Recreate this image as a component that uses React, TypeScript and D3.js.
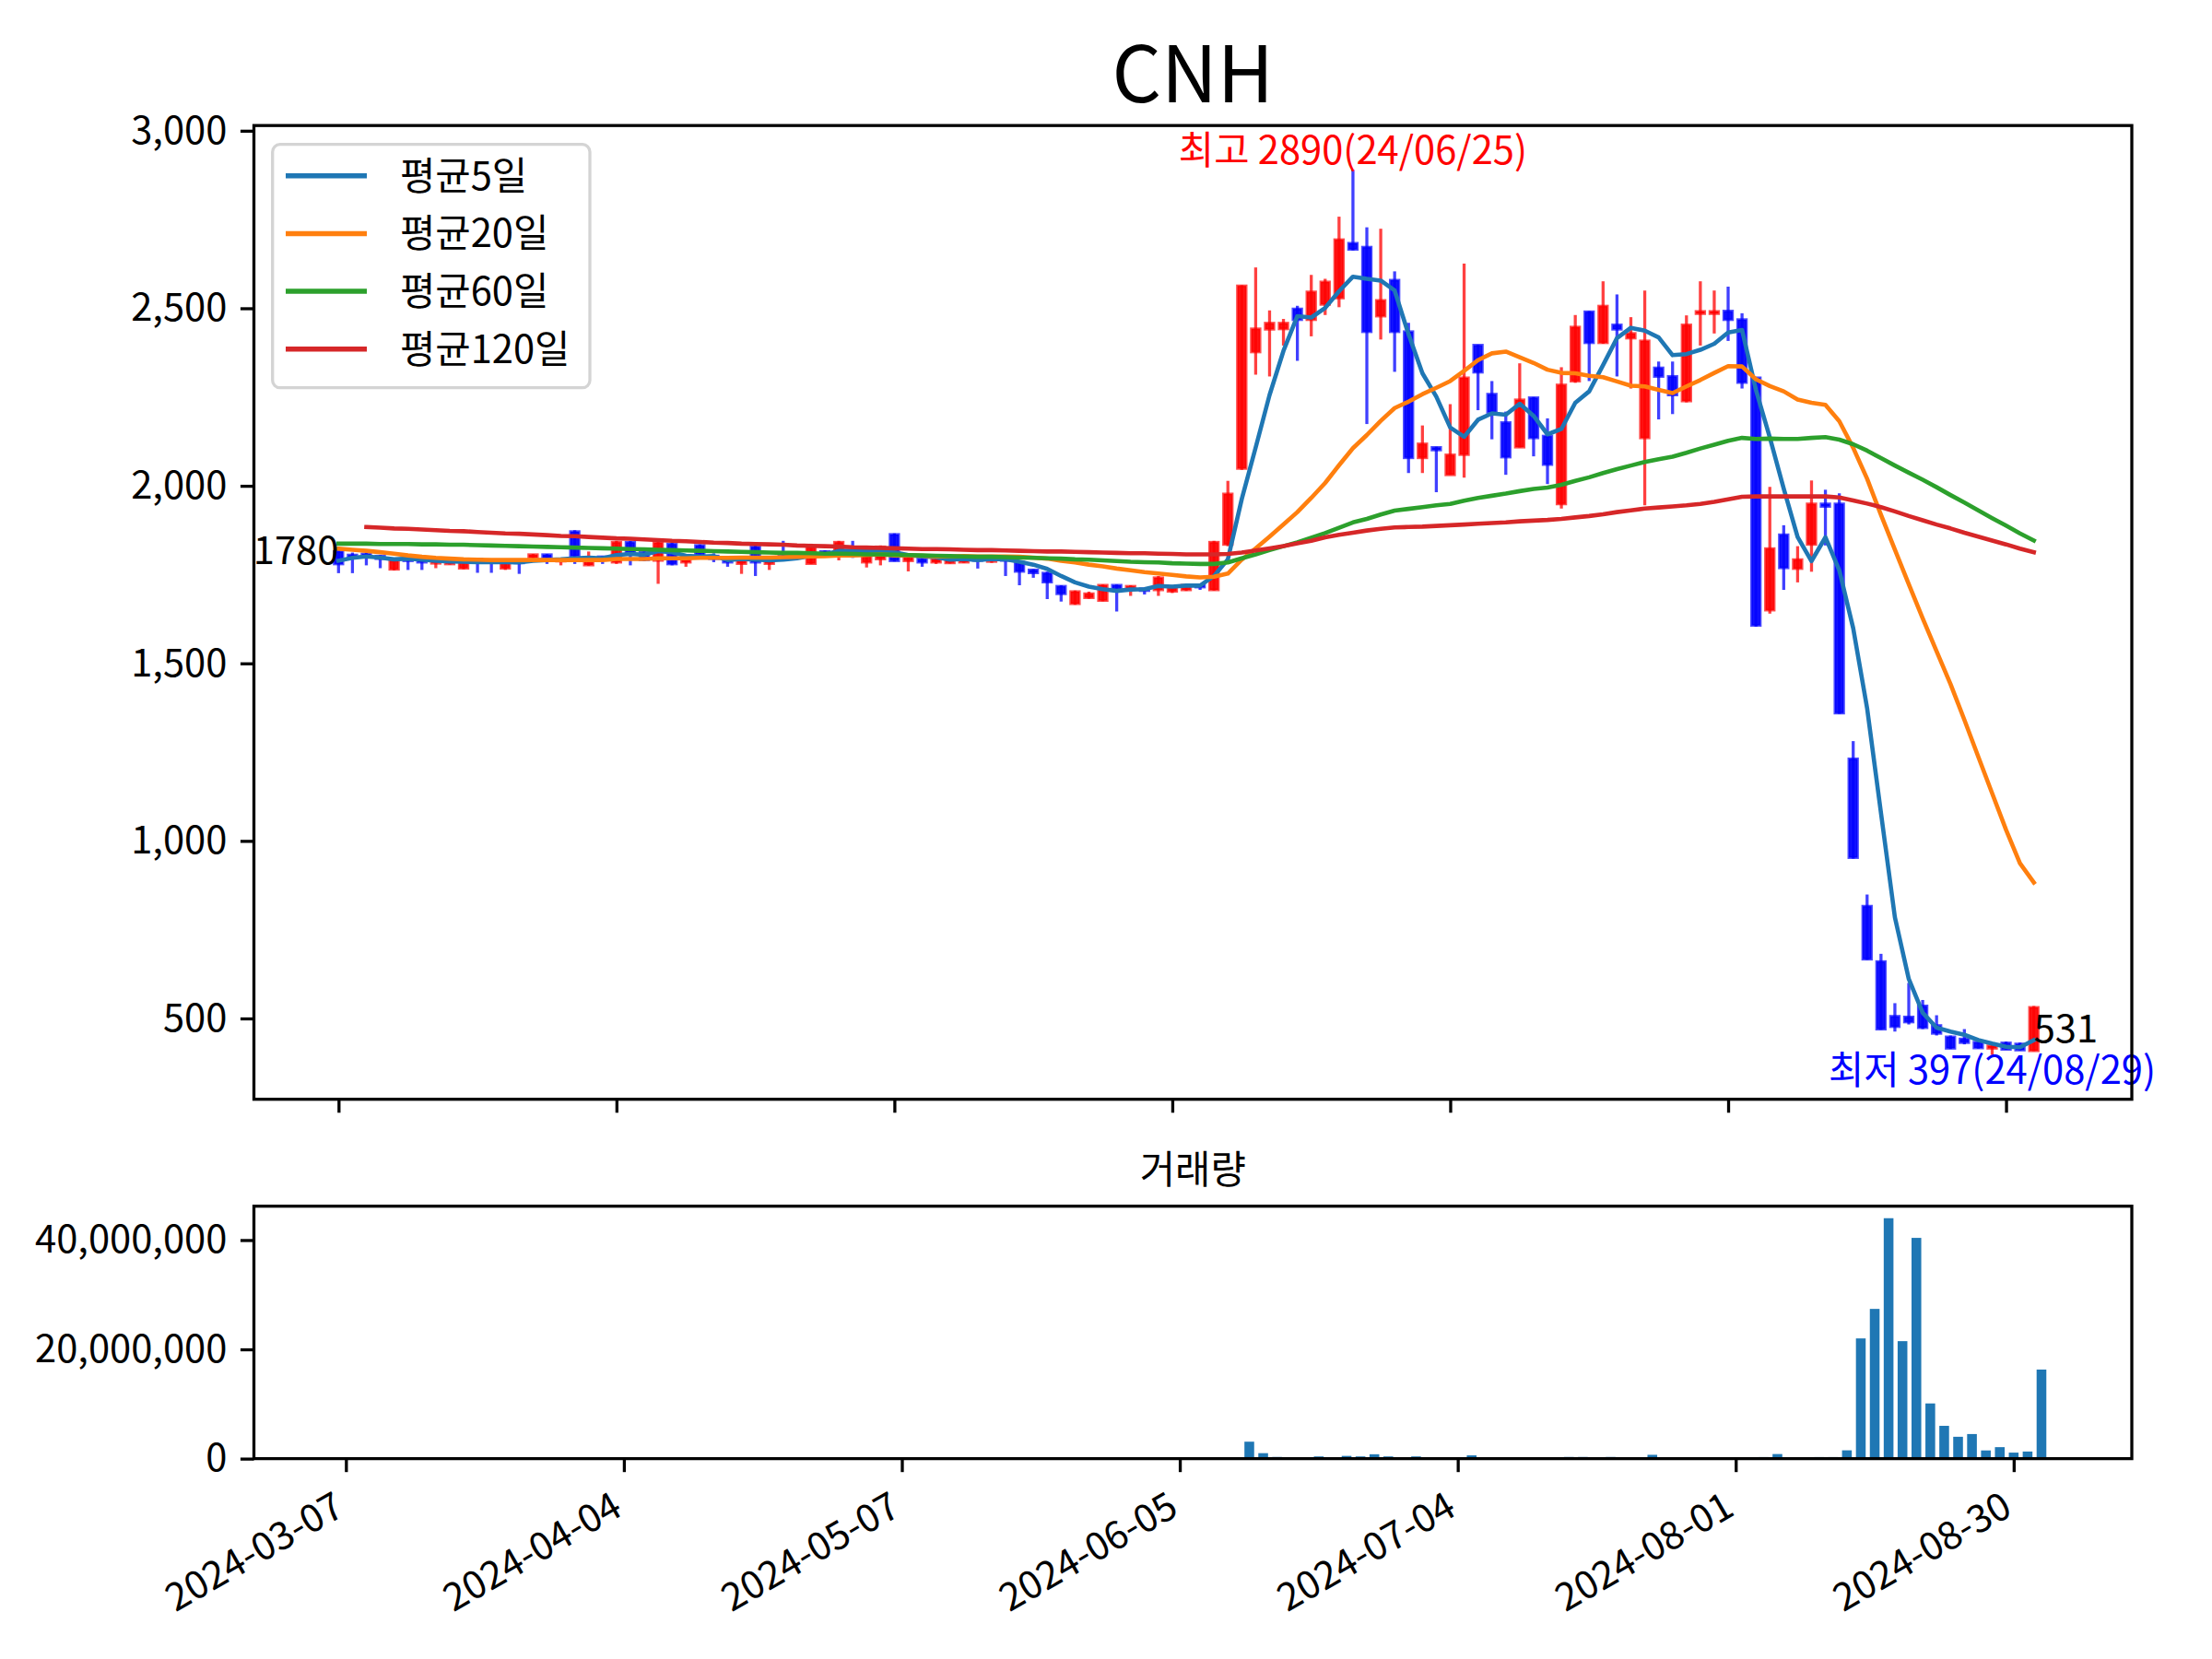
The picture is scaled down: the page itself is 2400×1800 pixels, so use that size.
import { useEffect, useRef } from 'react';
import * as d3 from 'd3';

// x positions are trading-day indices; only every 20th day gets a label
const tickIdx = [0, 20, 40, 60, 80, 100, 120];
const tickLabels = ['2024-03-07', '2024-04-04', '2024-05-07', '2024-06-05', '2024-07-04', '2024-08-01', '2024-08-30'];

const priceTicks = [500, 1000, 1500, 2000, 2500, 3000];
const volumeTicks = [0, 20000000, 40000000];

const opens = [
  1815, 1805, 1808, 1802, 1765, 1797, 1793, 1782, 1780, 1768,
  1793, 1790, 1768, 1790, 1798, 1806, 1788, 1871, 1777, 1800,
  1785, 1841, 1812, 1790, 1836, 1785, 1832, 1802, 1798, 1781,
  1828, 1781, 1812, 1805, 1781, 1815, 1811, 1815, 1785, 1794,
  1863, 1789, 1794, 1785, 1783, 1785, 1796, 1787, 1795, 1785,
  1763, 1754, 1717, 1668, 1685, 1677, 1720, 1712, 1710, 1707,
  1703, 1707, 1720, 1707, 1835, 2049, 2377, 2441, 2442, 2498,
  2468, 2511, 2529, 2683, 2672, 2478, 2579, 2434, 2079, 2108,
  2031, 2088, 2396, 2258, 2178, 2109, 2248, 2140, 1949, 2295,
  2490, 2403, 2453, 2416, 2135, 2332, 2308, 2239, 2485, 2485,
  2492, 2468, 2304, 1650, 1862, 1767, 1835, 1949, 1949, 1231,
  816, 660, 506, 504, 535, 480, 448, 442, 433, 416,
  431, 428, 409,
];

const highs = [
  1820, 1812, 1812, 1805, 1792, 1802, 1795, 1786, 1790, 1786,
  1795, 1792, 1786, 1792, 1808, 1808, 1795, 1875, 1815, 1802,
  1845, 1845, 1815, 1845, 1840, 1800, 1835, 1810, 1800, 1795,
  1835, 1796, 1845, 1808, 1837, 1818, 1845, 1845, 1806, 1832,
  1866, 1805, 1800, 1800, 1795, 1798, 1798, 1800, 1798, 1790,
  1765, 1758, 1720, 1705, 1702, 1722, 1722, 1720, 1712, 1746,
  1715, 1722, 1724, 1845, 2014, 2565, 2615, 2494, 2470, 2507,
  2594, 2583, 2758, 2890, 2728, 2724, 2604, 2459, 2170, 2110,
  2230, 2626, 2397, 2295, 2209, 2345, 2250, 2190, 2334, 2481,
  2492, 2576, 2539, 2475, 2550, 2350, 2350, 2480, 2576, 2550,
  2561, 2486, 2304, 1997, 1889, 1830, 2015, 1989, 1979, 1281,
  849, 682, 543, 600, 552, 509, 452, 470, 439, 426,
  435, 432, 535,
];

const lows = [
  1754, 1754, 1776, 1768, 1762, 1763, 1763, 1768, 1778, 1765,
  1755, 1755, 1763, 1752, 1795, 1780, 1776, 1780, 1775, 1780,
  1780, 1776, 1788, 1724, 1776, 1772, 1798, 1785, 1772, 1752,
  1746, 1763, 1800, 1798, 1780, 1805, 1790, 1797, 1770, 1776,
  1787, 1759, 1772, 1780, 1781, 1783, 1767, 1783, 1746, 1720,
  1741, 1681, 1674, 1665, 1682, 1675, 1646, 1690, 1694, 1690,
  1698, 1704, 1707, 1705, 1830, 2045, 2313, 2308, 2395, 2352,
  2421, 2481, 2503, 2663, 2174, 2412, 2321, 2036, 2036, 1982,
  2031, 2023, 2213, 2131, 2031, 2108, 2083, 2005, 1936, 2290,
  2295, 2400, 2308, 2274, 1945, 2187, 2202, 2235, 2395, 2429,
  2408, 2274, 1603, 1640, 1707, 1728, 1758, 1832, 1358, 950,
  665, 468, 463, 483, 470, 452, 414, 427, 415, 397,
  412, 410, 408,
];

const closes = [
  1780, 1800, 1800, 1795, 1790, 1789, 1785, 1785, 1785, 1784,
  1785, 1785, 1784, 1783, 1806, 1798, 1792, 1802, 1794, 1795,
  1841, 1810, 1792, 1840, 1780, 1793, 1802, 1795, 1785, 1793,
  1785, 1793, 1806, 1802, 1828, 1808, 1841, 1805, 1802, 1828,
  1789, 1802, 1785, 1793, 1793, 1796, 1790, 1796, 1790, 1759,
  1755, 1729, 1696, 1702, 1696, 1720, 1707, 1717, 1705, 1741,
  1712, 1720, 1715, 1841, 1977, 2563, 2442, 2458, 2458, 2468,
  2546, 2574, 2693, 2666, 2434, 2522, 2434, 2079, 2118, 2101,
  2087, 2304, 2320, 2207, 2081, 2242, 2135, 2060, 2284, 2447,
  2403, 2506, 2441, 2429, 2408, 2308, 2256, 2453, 2491, 2491,
  2468, 2291, 1607, 1823, 1769, 1792, 1949, 1942, 1360, 953,
  667, 470, 477, 490, 474, 458, 416, 432, 417, 423,
  413, 411, 531,
];

const volumes = [
  0, 0, 0, 0, 0, 0, 0, 0, 0, 0,
  0, 0, 0, 0, 0, 0, 0, 0, 0, 0,
  0, 0, 0, 0, 0, 0, 0, 0, 0, 0,
  0, 0, 0, 0, 0, 0, 0, 0, 0, 0,
  0, 0, 0, 0, 0, 0, 0, 0, 0, 0,
  0, 0, 0, 0, 0, 0, 0, 0, 0, 0,
  0, 0, 0, 0, 0, 3100000, 1000000, 300000, 0, 0,
  400000, 0, 500000, 400000, 800000, 400000, 0, 400000, 0, 0,
  0, 600000, 0, 0, 0, 0, 0, 0, 300000, 300000,
  0, 300000, 0, 0, 700000, 0, 0, 0, 0, 0,
  0, 0, 280000, 840000, 0, 110000, 280000, 280000, 1520000, 22000000,
  27400000, 44000000, 21500000, 40400000, 10100000, 6000000, 4000000, 4500000, 1500000, 2100000,
  1100000, 1300000, 16300000,
];

const ma5 = [
  1789, 1797, 1801, 1798, 1793, 1795, 1792, 1789, 1787, 1786,
  1785, 1785, 1785, 1784, 1789, 1791, 1793, 1796, 1798, 1796,
  1805, 1808, 1806, 1816, 1813, 1803, 1801, 1802, 1791, 1794,
  1792, 1790, 1792, 1796, 1803, 1807, 1817, 1817, 1817, 1817,
  1813, 1805, 1801, 1799, 1792, 1794, 1791, 1794, 1793, 1786,
  1778, 1766, 1746, 1728, 1716, 1709, 1704, 1708, 1709, 1718,
  1716, 1719, 1719, 1746, 1793, 1963, 2108, 2256, 2380, 2478,
  2474, 2501, 2548, 2589, 2583, 2578, 2550, 2427, 2317, 2251,
  2164, 2138, 2186, 2204, 2200, 2231, 2197, 2145, 2160, 2234,
  2266, 2340, 2416, 2445, 2437, 2418, 2368, 2371, 2383, 2400,
  2432, 2439, 2270, 2136, 1992, 1856, 1788, 1855, 1762, 1599,
  1374, 1078, 785, 611, 516, 474, 463, 454, 439, 429,
  420, 419, 439,
];

const ma20 = [
  1823, 1820, 1817, 1813, 1809, 1804, 1800, 1797, 1795, 1793,
  1792, 1791, 1791, 1791, 1791, 1791, 1791, 1791, 1791, 1791,
  1794, 1794, 1794, 1796, 1796, 1796, 1797, 1797, 1797, 1798,
  1798, 1798, 1799, 1800, 1801, 1802, 1804, 1804, 1805, 1807,
  1804, 1804, 1803, 1801, 1801, 1802, 1801, 1801, 1801, 1800,
  1798, 1795, 1789, 1784, 1778, 1773, 1767, 1762, 1757, 1753,
  1749, 1745, 1742, 1744, 1753, 1792, 1824, 1857, 1891, 1926,
  1966, 2008, 2058, 2106, 2143, 2183, 2219, 2237, 2258, 2276,
  2295, 2324, 2354, 2373, 2378, 2362, 2346, 2327, 2318, 2317,
  2310, 2306, 2294, 2282, 2280, 2270, 2261, 2280, 2298, 2318,
  2337, 2336, 2300, 2281, 2266, 2243, 2234, 2228, 2182, 2107,
  2020, 1918, 1820, 1723, 1627, 1534, 1442, 1341, 1237, 1134,
  1031, 937, 883,
];

const ma60 = [
  1837, 1837, 1837, 1836, 1836, 1836, 1835, 1835, 1834, 1834,
  1833, 1832, 1831, 1830, 1829, 1828, 1827, 1826, 1825, 1824,
  1823, 1822, 1821, 1820, 1819, 1818, 1817, 1816, 1815, 1814,
  1813, 1812, 1811, 1811, 1810, 1809, 1809, 1808, 1807, 1807,
  1806, 1805, 1804, 1803, 1802, 1801, 1800, 1800, 1799, 1798,
  1797, 1796, 1795, 1793, 1792, 1790, 1788, 1786, 1785, 1784,
  1782, 1781, 1780, 1780, 1784, 1796, 1807, 1819, 1830, 1841,
  1854, 1867, 1882, 1897, 1907, 1919, 1930, 1935, 1940, 1945,
  1949, 1958, 1966, 1972, 1978, 1985, 1991, 1995, 2003, 2014,
  2024, 2036, 2047, 2057, 2067, 2075, 2082, 2093, 2105, 2116,
  2127, 2135, 2132, 2133, 2132, 2132, 2135, 2137, 2130, 2117,
  2099, 2078, 2057, 2037, 2017, 1996, 1974, 1953, 1931, 1909,
  1888, 1866, 1846,
];

const ma120 = [
  null, null, 1884, 1882, 1880, 1879, 1877, 1875, 1873, 1872,
  1870, 1868, 1866, 1865, 1863, 1861, 1859, 1858, 1856, 1854,
  1852, 1851, 1849, 1847, 1845, 1844, 1842, 1840, 1839, 1837,
  1836, 1835, 1834, 1832, 1831, 1830, 1829, 1827, 1826, 1825,
  1824, 1823, 1822, 1822, 1821, 1820, 1819, 1819, 1818, 1817,
  1816, 1815, 1815, 1814, 1813, 1812, 1811, 1810, 1810, 1809,
  1808, 1807, 1807, 1807, 1808, 1812, 1818, 1824, 1830, 1838,
  1845, 1855, 1862, 1868, 1874, 1879, 1883, 1884, 1885, 1887,
  1889, 1891, 1893, 1895, 1897, 1900, 1902, 1904, 1907, 1911,
  1915, 1920, 1926, 1931, 1936, 1939, 1942, 1945, 1949, 1955,
  1962, 1969, 1970, 1970, 1970, 1970, 1970, 1970, 1967, 1959,
  1950, 1940, 1928, 1915, 1903, 1891, 1880, 1868, 1857, 1846,
  1835, 1823, 1813,
];

const maSeries = [
  { label: '평균5일', values: ma5, color: '#1f77b4' },
  { label: '평균20일', values: ma20, color: '#ff7f0e' },
  { label: '평균60일', values: ma60, color: '#2ca02c' },
  { label: '평균120일', values: ma120, color: '#d62728' },
];

const highIdx = 73;
const highDate = '24/06/25';
const lowIdx = 119;
const lowDate = '24/08/29';

const FONT = '"Noto Sans CJK KR", "Noto Sans", sans-serif';
const FS = 41.7;
const W = 2400;
const H = 1800;

export default function App() {
  const svgRef = useRef<SVGSVGElement>(null);

  useEffect(() => {
    document.body.style.margin = '0';
    if (!svgRef.current) return;
    const svg = d3.select(svgRef.current);
    svg.selectAll('*').remove();

    const left = 275.5;
    const right = 2313;
    const pTop = 136.2;
    const pBottom = 1192.7;
    const vTop = 1308.7;
    const vBottom = 1582.6;

    const x = d3.scaleLinear().domain([-6.09, 129.05]).range([left, right]);
    const xv = d3.scaleLinear().domain([-6.62, 128.5]).range([left, right]);
    const y = d3.scaleLinear().domain([272.35, 3014.65]).range([pBottom, pTop]);
    const yv = d3.scaleLinear().domain([0, 46200000]).range([vBottom, vTop]);

    svg.append('rect').attr('width', W).attr('height', H).attr('fill', '#fff');

    const styleAxis = (g: d3.Selection<SVGGElement, unknown, null, undefined>) => {
      g.select('.domain').remove();
      g.selectAll('.tick line').attr('stroke', '#000').attr('stroke-width', 3.3);
      g.selectAll('.tick text')
        .attr('fill', '#000')
        .attr('font-size', FS)
        .attr('font-family', FONT);
    };

    // volume bars
    const bw = 0.7 * (xv(1) - xv(0));
    svg
      .append('g')
      .selectAll('rect')
      .data(volumes)
      .join('rect')
      .attr('x', (_, i) => xv(i) - bw / 2)
      .attr('width', bw)
      .attr('y', (d) => yv(d))
      .attr('height', (d) => yv(0) - yv(d))
      .attr('fill', '#1f77b4');

    // candles
    const step = x(1) - x(0);
    const cw = step * 0.62;
    const colorOf = (i: number) => (closes[i] >= opens[i] ? '#ff0000' : '#0000ff');
    const candles = svg.append('g');
    candles
      .selectAll('line')
      .data(closes)
      .join('line')
      .attr('x1', (_, i) => x(i))
      .attr('x2', (_, i) => x(i))
      .attr('y1', (_, i) => y(highs[i]))
      .attr('y2', (_, i) => y(lows[i]))
      .attr('stroke', (_, i) => colorOf(i))
      .attr('stroke-opacity', 0.75)
      .attr('stroke-width', 3.3);
    candles
      .selectAll('rect')
      .data(closes)
      .join('rect')
      .attr('x', (_, i) => x(i) - cw / 2)
      .attr('width', cw)
      .attr('y', (d, i) => y(Math.max(d, opens[i])))
      .attr('height', (d, i) => Math.abs(y(d) - y(opens[i])))
      .attr('fill', (_, i) => colorOf(i))
      .attr('fill-opacity', 0.92)
      .attr('stroke', (_, i) => colorOf(i))
      .attr('stroke-opacity', 0.7)
      .attr('stroke-width', 3);

    // moving averages
    const line = d3
      .line<number | null>()
      .defined((d) => d != null)
      .x((_, i) => x(i))
      .y((d) => y(d as number));
    maSeries.forEach((s) => {
      svg
        .append('path')
        .attr('d', line(s.values))
        .attr('fill', 'none')
        .attr('stroke', s.color)
        .attr('stroke-width', 4.6)
        .attr('stroke-linejoin', 'round')
        .attr('stroke-linecap', 'square');
    });

    // annotations
    const note = (tx: number, ty: number, text: string, color: string, anchor: string, dy: string) =>
      svg
        .append('text')
        .attr('x', tx)
        .attr('y', ty)
        .attr('dy', dy)
        .attr('text-anchor', anchor)
        .attr('fill', color)
        .attr('font-size', FS)
        .attr('font-family', FONT)
        .text(text);

    const last = closes.length - 1;
    note(x(highIdx), y(highs[highIdx]), `최고 ${highs[highIdx]}(${highDate})`, '#ff0000', 'middle', '-0.15em');
    note(x(lowIdx), y(lows[lowIdx]), `최저 ${lows[lowIdx]}(${lowDate})`, '#0000ff', 'middle', '0.74em');
    note(x(0), y(closes[0]), `${closes[0]}`, '#000', 'end', '0');
    note(x(last), y(closes[last]), `${closes[last]}`, '#000', 'start', '0.9em');

    // axes
    const fmt = d3.format(',');
    svg
      .append('g')
      .attr('transform', `translate(${left},0)`)
      .call(d3.axisLeft(y).tickValues(priceTicks).tickFormat((d) => fmt(d as number)).tickSize(14.6).tickPadding(14.6))
      .call(styleAxis);
    svg
      .append('g')
      .attr('transform', `translate(0,${pBottom})`)
      .call(d3.axisBottom(x).tickValues(tickIdx).tickFormat(() => '').tickSize(14.6))
      .call(styleAxis);
    svg
      .append('g')
      .attr('transform', `translate(${left},0)`)
      .call(d3.axisLeft(yv).tickValues(volumeTicks).tickFormat((d) => fmt(d as number)).tickSize(14.6).tickPadding(14.6))
      .call(styleAxis);
    const vx = svg
      .append('g')
      .attr('transform', `translate(0,${vBottom})`)
      .call(d3.axisBottom(xv).tickValues(tickIdx).tickFormat((_, i) => tickLabels[i]).tickSize(14.6))
      .call(styleAxis);
    vx.selectAll('.tick text')
      .attr('x', 0)
      .attr('y', 60)
      .attr('dy', 0)
      .attr('text-anchor', 'end')
      .attr('transform', 'rotate(-30, 0, 60)');

    // frames
    [
      [pTop, pBottom],
      [vTop, vBottom],
    ].forEach(([t, b]) => {
      svg
        .append('rect')
        .attr('x', left)
        .attr('y', t)
        .attr('width', right - left)
        .attr('height', b - t)
        .attr('fill', 'none')
        .attr('stroke', '#000')
        .attr('stroke-width', 3.3);
    });

    // titles
    svg
      .append('text')
      .attr('x', (left + right) / 2)
      .attr('y', pTop - 25)
      .attr('text-anchor', 'middle')
      .attr('font-size', 84)
      .attr('font-family', FONT)
      .text('CNH');
    svg
      .append('text')
      .attr('x', (left + right) / 2)
      .attr('y', vTop - 25)
      .attr('text-anchor', 'middle')
      .attr('font-size', FS)
      .attr('font-family', FONT)
      .text('거래량');

    // legend
    const lg = svg.append('g');
    lg.append('rect')
      .attr('x', 295.7)
      .attr('y', 156.7)
      .attr('width', 344.3)
      .attr('height', 264)
      .attr('rx', 8)
      .attr('fill', '#fff')
      .attr('fill-opacity', 0.8)
      .attr('stroke', '#d4d4d4')
      .attr('stroke-width', 3.3);
    maSeries.forEach((s, i) => {
      const ry = 190.7 + i * 62.7;
      lg.append('line')
        .attr('x1', 310)
        .attr('x2', 398)
        .attr('y1', ry)
        .attr('y2', ry)
        .attr('stroke', s.color)
        .attr('stroke-width', 5.5);
      lg.append('text')
        .attr('x', 434)
        .attr('y', ry)
        .attr('dy', '0.36em')
        .attr('font-size', FS)
        .attr('font-family', FONT)
        .text(s.label);
    });
  }, []);

  return <svg ref={svgRef} width={W} height={H} viewBox={`0 0 ${W} ${H}`} style={{ display: 'block' }} />;
}
